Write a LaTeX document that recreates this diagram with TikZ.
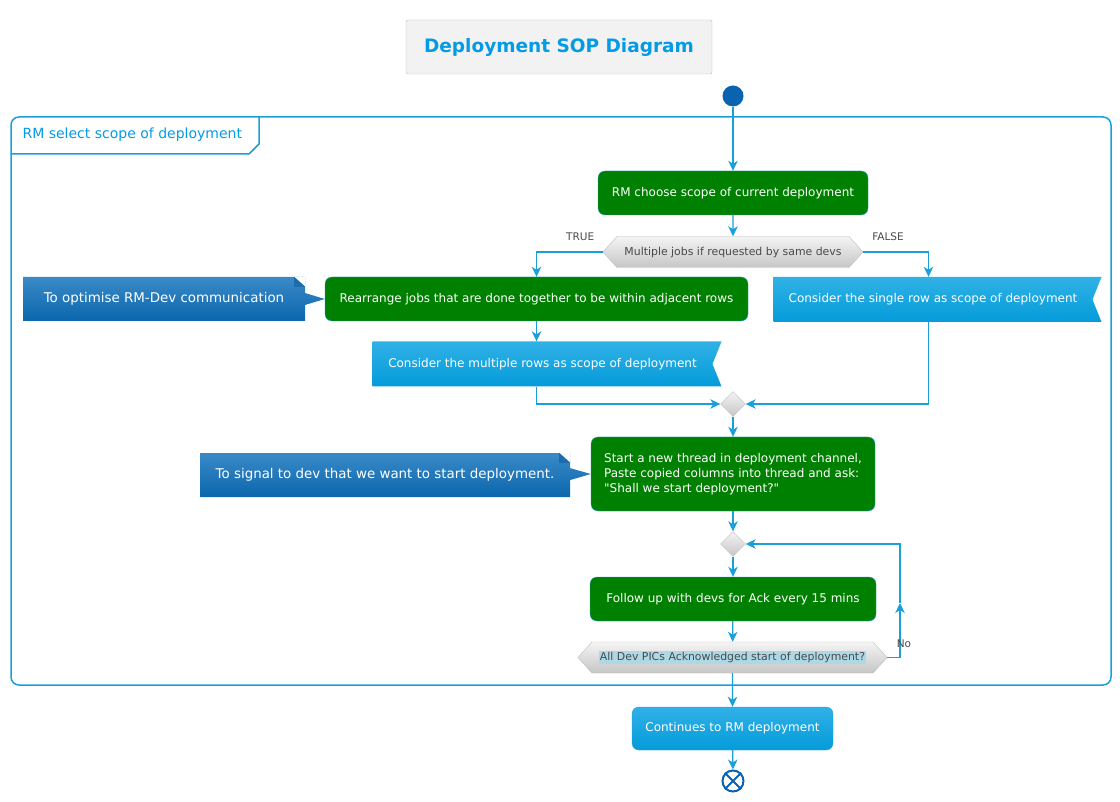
\documentclass[tikz,border=0pt]{standalone}
\usepackage{fontspec}
\setmainfont{DejaVu Sans}
\usetikzlibrary{shapes.geometric, shapes.symbols, shapes.callouts, arrows.meta, positioning}
\definecolor{lineblue}{HTML}{1A9FDB}
\definecolor{titleblue}{HTML}{039BE5}
\definecolor{actgreen}{HTML}{008000}
\definecolor{startblue}{HTML}{0A63B0}
\definecolor{notetop}{HTML}{3A8AC7}
\definecolor{notebot}{HTML}{0B66AD}
\definecolor{notefold}{HTML}{1D6CAE}
\definecolor{sigtop}{HTML}{30B1E6}
\definecolor{sigbot}{HTML}{049BDA}
\definecolor{dectop}{HTML}{F4F4F4}
\definecolor{decbot}{HTML}{C6C6C6}
\definecolor{decline}{HTML}{BDBDBD}
\definecolor{dectext}{HTML}{4A4A4A}
\definecolor{hlblue}{HTML}{ADD8E6}
\tikzstyle{titlebox} = [rectangle, rounded corners=2pt, draw=decline, fill=black!5, text=titleblue, font=\fontsize{18.5}{22}\selectfont\bfseries, minimum width=306pt, minimum height=54pt]
\tikzstyle{startnode} = [circle, fill=startblue, minimum size=21pt, inner sep=0pt]
\tikzstyle{endnode} = [circle, draw=startblue, line width=2pt, fill=white, minimum size=21pt, inner sep=0pt]
\tikzstyle{action} = [rectangle, rounded corners=7pt, draw=lineblue, fill=actgreen, text=white, font=\fontsize{12}{15}\selectfont, minimum height=44pt, text centered]
\tikzstyle{finalact} = [rectangle, rounded corners=7pt, draw=lineblue, top color=sigtop, bottom color=sigbot, text=white, font=\fontsize{12}{15}\selectfont, minimum height=43pt]
\tikzstyle{signalbox} = [signal, signal to=nowhere, signal from=east, signal pointer angle=136, top color=sigtop, bottom color=sigbot, text=white, font=\fontsize{12}{15}\selectfont, minimum height=45pt]
\tikzstyle{decision} = [signal, signal to=west and east, signal pointer angle=96, draw=decline, top color=dectop, bottom color=decbot, text=dectext, font=\fontsize{10.9}{13}\selectfont, minimum height=31pt]
\tikzstyle{merge} = [diamond, draw=decline, top color=dectop, bottom color=decbot, minimum size=25pt, inner sep=0pt]
\tikzstyle{note} = [rectangle callout, callout pointer width=12pt, top color=notetop, bottom color=notebot, text=white, font=\fontsize{13.4}{16}\selectfont, minimum height=44pt]
\tikzstyle{branch} = [text=dectext, font=\fontsize{10.5}{12}\selectfont]
\tikzstyle{frame} = [draw=lineblue, line width=1.5pt]
\tikzstyle{arrow} = [draw=lineblue, line width=1.2pt, -{Stealth[length=10pt, width=9.5pt, inset=3pt]}]

\begin{document}
\begin{tikzpicture}[x=1pt, y=-1pt]
\useasboundingbox (0,0) rectangle (1120,802);
% title and partition
\node (title) [titlebox] at (559,47) {Deployment SOP Diagram};
\draw [frame, rounded corners=8pt] (11,117) rectangle (1111,685);
\draw [frame] (11,154) -- (249,154) -- (259,144) -- (259,117);
\node (part) [anchor=west, text=titleblue, font=\fontsize{14}{16}\selectfont] at (19,135) {RM select scope of deployment};
% activities
\node (start) [startnode] at (733,96) {};
\node (choose) [action, minimum width=270pt] at (733,193) {RM choose scope of current deployment};
\node (multi) [decision, minimum width=260pt] at (733,252) {Multiple jobs if requested by same devs};
\node (rearr) [action, minimum width=423pt] at (536.5,299) {Rearrange jobs that are done together to be within adjacent rows};
\node (single) [signalbox, minimum width=328pt] at (933,299.5) {Consider the single row as scope of deployment};
\node (rows) [signalbox, minimum width=349pt] at (542.5,364) {Consider the multiple rows as scope of deployment};
\node (merge) [merge] at (733,404) {};
\node (thread) [action, minimum width=284pt, minimum height=74pt, align=left] at (733,474) {Start a new thread in deployment channel,\\Paste copied columns into thread and ask:\\\textquotedbl Shall we start deployment?\textquotedbl};
\node (loop) [merge] at (733,544) {};
\node (follow) [action, minimum width=286pt] at (733,599) {Follow up with devs for Ack every 15 mins};
\node (ack) [decision, minimum width=309pt, inner xsep=2pt] at (732.5,657.5) {\setlength\fboxsep{1pt}\colorbox{hlblue}{All Dev PICs Acknowledged start of deployment?}};
\node (cont) [finalact, minimum width=201pt] at (732.5,728.5) {Continues to RM deployment};
\node (end) [endnode] at (733,781) {};
\draw [startblue, line width=2pt] (end.north east) -- (end.south west) (end.north west) -- (end.south east);
% notes
\node (optim) [note, minimum width=282pt, callout absolute pointer=(rearr.west)] at (164,299) {To optimise RM-Dev communication};
\fill [white] ([xshift=-11pt]optim.north east) -- (optim.north east) -- ([yshift=-10pt]optim.north east) -- cycle;
\fill [notefold] ([xshift=-11pt]optim.north east) -- ([xshift=-11pt,yshift=-10pt]optim.north east) -- ([yshift=-10pt]optim.north east) -- cycle;
\node (signal) [note, minimum width=370pt, callout absolute pointer=(thread.west)] at (385,475) {To signal to dev that we want to start deployment.};
\fill [white] ([xshift=-11pt]signal.north east) -- (signal.north east) -- ([yshift=-10pt]signal.north east) -- cycle;
\fill [notefold] ([xshift=-11pt]signal.north east) -- ([xshift=-11pt,yshift=-10pt]signal.north east) -- ([yshift=-10pt]signal.north east) -- cycle;
% connectors
\coordinate (back) at (900,603);
\draw [arrow] (start) -- (choose);
\draw [arrow] (choose) -- (multi);
\draw [arrow] (multi.west) -| node[branch, pos=0.17, yshift=15pt] {TRUE} (rearr.north);
\draw [arrow] (multi.east) -| node[branch, pos=0.19, yshift=15pt] {FALSE} ([xshift=-4.5pt]single.north);
\draw [arrow] (rearr) -- (rearr |- rows.north);
\draw [arrow] (rearr |- rows.south) |- (merge.west);
\draw [arrow] ([xshift=-4.5pt]single.south) |- (merge.east);
\draw [arrow] (merge) -- (thread);
\draw [arrow] (thread) -- (loop);
\draw [arrow] (loop) -- (follow);
\draw [arrow] (follow) -- (ack);
\draw [arrow] (ack.east) -| node[branch, pos=0.63, xshift=4pt] {No} (back);
\draw [arrow] (back) |- (loop.east);
\draw [arrow] (ack) -- (cont);
\draw [arrow] (cont) -- (end);
\end{tikzpicture}
\end{document}
